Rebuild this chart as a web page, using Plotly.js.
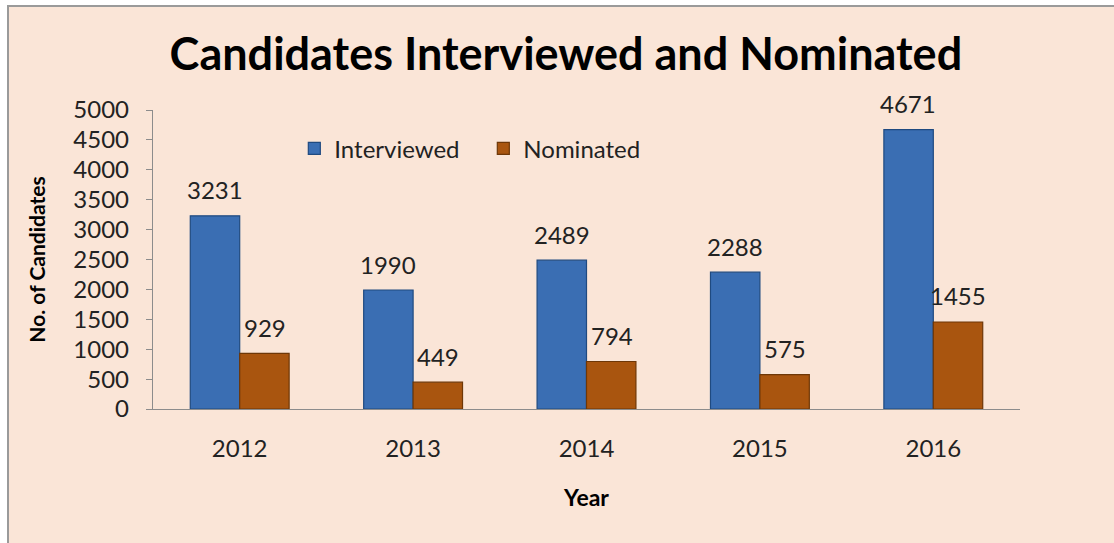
<!DOCTYPE html>
<html>
<head>
<meta charset="utf-8">
<script src="https://cdn.plot.ly/plotly-3.0.1.min.js"></script>
<style>
  html, body { margin: 0; padding: 0; background: #ffffff; }
  #wrap { position: relative; width: 1114px; height: 543px; overflow: hidden; }
  #chart { position: absolute; left: 0; top: 0; width: 1114px; height: 543px; }
  .mask { position: absolute; background: #ffffff; pointer-events: none; }
</style>
</head>
<body>
<div id="wrap">
  <div id="chart"></div>
  <div class="mask" style="left:0;top:0;width:7px;height:543px;"></div>
  <div class="mask" style="left:0;top:0;width:1114px;height:5px;"></div>
  <div style="position:absolute;left:7px;top:5px;width:1107px;height:538px;border-left:2px solid #9a9a9a;border-top:2px solid #9a9a9a;pointer-events:none;"></div>
</div>
<script>
const years = ["2012", "2013", "2014", "2015", "2016"];
const interviewed = [3231, 1990, 2489, 2288, 4671];
const nominated = [929, 449, 794, 575, 1455];
const seriesNames = ["Interviewed", "Nominated"];
const yTicks = [0, 500, 1000, 1500, 2000, 2500, 3000, 3500, 4000, 4500, 5000];

const FONT = "Lato, 'Open Sans', sans-serif";
const bg = "#FAE5D7";

const traces = [
  {
    type: "bar", name: seriesNames[0], x: years, y: interviewed,
    marker: { color: "#3A6EB3", line: { color: "#1F4A80", width: 1.2 } },
    hoverinfo: "x+y"
  },
  {
    type: "bar", name: seriesNames[1], x: years, y: nominated,
    marker: { color: "#A9550F", line: { color: "#6E3707", width: 1.2 } },
    hoverinfo: "x+y"
  }
];

const annotations = [];
years.forEach((yr, i) => {
  annotations.push({ x: i, y: interviewed[i], xref: "x", yref: "y", text: String(interviewed[i]),
    showarrow: false, xshift: -25, yshift: 26, font: { family: FONT, size: 24, color: "#222" } });
  annotations.push({ x: i, y: nominated[i], xref: "x", yref: "y", text: String(nominated[i]),
    showarrow: false, xshift: 25, yshift: 26, font: { family: FONT, size: 24, color: "#222" } });
});

const layout = {
  width: 1114, height: 543,
  paper_bgcolor: bg, plot_bgcolor: bg,
  margin: { l: 153, r: 94, t: 110, b: 134, pad: 0 },
  barmode: "group", bargap: 0.43, bargroupgap: 0,
  showlegend: true,
  title: { text: "<b>Candidates Interviewed and Nominated</b>", x: 0.508, xanchor: "center", y: 0.9, yanchor: "middle",
    font: { family: FONT, size: 45, color: "#000" } },
  legend: { orientation: "h", x: 0.163, xanchor: "left", y: 0.87, yanchor: "middle",
    bgcolor: "rgba(0,0,0,0)", font: { family: FONT, size: 24, color: "#222" },
    itemwidth: 30, tracegroupgap: 0, entrywidth: 144, entrywidthmode: "pixels" },
  xaxis: {
    type: "category", range: [-0.5, 4.5], autorange: false, showgrid: false, zeroline: false,
    showline: true, linecolor: "#8c8c8c", linewidth: 1.2,
    ticks: "", ticklabelstandoff: 18,
    tickfont: { family: FONT, size: 24, color: "#222" },
    title: { text: "<b>Year</b>", font: { family: FONT, size: 23, color: "#000" }, standoff: 28 }
  },
  yaxis: {
    range: [0, 5000], autorange: false, tickvals: yTicks, showgrid: false, zeroline: false,
    showline: true, linecolor: "#8c8c8c", linewidth: 1.2,
    ticks: "outside", ticklen: 6, tickcolor: "#8c8c8c", tickwidth: 1,
    ticklabelstandoff: 12,
    tickfont: { family: FONT, size: 24, color: "#222" },
    title: { text: "<b>No. of Candidates</b>", font: { family: FONT, size: 21, color: "#000" }, standoff: 22 }
  },
  annotations: annotations
};

Plotly.newPlot("chart", traces, layout, { displayModeBar: false, staticPlot: true });
</script>
</body>
</html>
